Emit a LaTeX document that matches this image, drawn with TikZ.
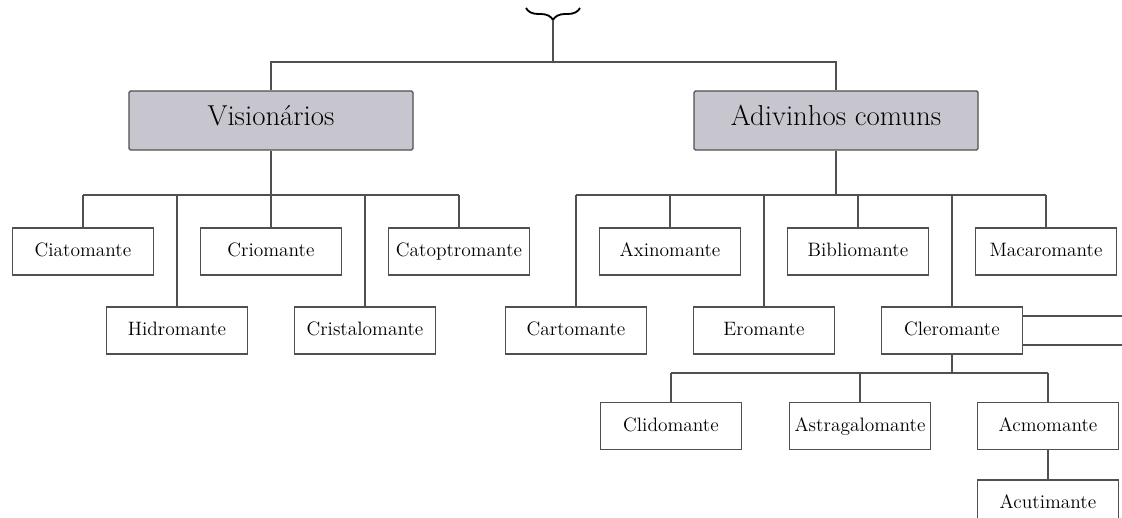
\documentclass[tikz,border=0pt]{standalone}
\usepackage{tikz}
\usetikzlibrary{positioning, decorations.pathreplacing}
\definecolor{headgrey}{RGB}{199,198,207}
\definecolor{linegrey}{RGB}{80,80,80}

\begin{document}
\begin{tikzpicture}[
  leaf/.style={draw=linegrey, line width=0.9pt, fill=white, inner sep=0pt,
    text height=1.9ex, text depth=0.25ex,
    minimum width=3.525cm, minimum height=1.175cm, font=\fontsize{13.8}{16}\selectfont},
  head/.style={leaf, fill=headgrey, rounded corners=1pt,
    minimum width=7.1cm, minimum height=1.475cm, font=\fontsize{20.5}{24}\selectfont},
  link/.style={draw=linegrey, line width=0.8pt}
]
\clip (0,0) rectangle (28.05,12.925);

% Top brace
\draw[line width=1.3pt, decorate, decoration={brace, mirror, amplitude=0.3cm}]
  (13.15,12.725) -- (14.5,12.725);
\coordinate (bracetip) at (13.825,12.425);
\coordinate (toprail) at (13.825,11.375);

% Heads
\node[head] (vis) at (6.775,9.9125) {Visionários};
\node[head] (adv) at (20.9,9.9125) {Adivinhos comuns};
\draw[link] (bracetip) -- (toprail);
\draw[link] (vis.north) |- (toprail) -| (adv.north);

% Visionaries
\node[leaf] (ciat) at (2.075,6.6375) {Ciatomante};
\node[leaf] (hidro) at (4.425,4.6625) {Hidromante};
\node[leaf] (crio) at (6.775,6.6375) {Criomante};
\node[leaf] (crist) at (9.125,4.6625) {Cristalomante};
\node[leaf] (catop) at (11.475,6.6375) {Catoptromante};
\coordinate (visrail) at (6.775,8.05);
\draw[link] (vis.south) -- (visrail);
\draw[link] (ciat.north |- visrail) -- (catop.north |- visrail);
\foreach \c in {ciat,hidro,crio,crist,catop}
  \draw[link] (\c.north) -- (\c.north |- visrail);

% Common diviners
\node[leaf] (cart) at (14.4,4.6625) {Cartomante};
\node[leaf] (axin) at (16.75,6.6375) {Axinomante};
\node[leaf] (ero) at (19.1,4.6625) {Eromante};
\node[leaf] (bibl) at (21.45,6.6375) {Bibliomante};
\node[leaf] (clero) at (23.8,4.6625) {Cleromante};
\node[leaf] (macar) at (26.15,6.6375) {Macaromante};
\coordinate (advrail) at (20.9,8.05);
\draw[link] (adv.south) -- (advrail);
\draw[link] (cart.north |- advrail) -- (macar.north |- advrail);
\foreach \c in {cart,axin,ero,bibl,clero,macar}
  \draw[link] (\c.north) -- (\c.north |- advrail);

% Cleromante lines out to the right
\coordinate (cleroout1) at (28.2,5.025);
\coordinate (cleroout2) at (28.2,4.3);
\draw[link] (clero.east |- cleroout1) -- (cleroout1);
\draw[link] (clero.east |- cleroout2) -- (cleroout2);

% Cleromante children
\node[leaf] (clid) at (16.775,2.275) {Clidomante};
\node[leaf] (astra) at (21.5,2.275) {Astragalomante};
\node[leaf] (acmo) at (26.2,2.275) {Acmomante};
\node[leaf] (acuti) at (26.2,0.3375) {Acutimante};
\coordinate (clerorail) at (23.8,3.6);
\draw[link] (clero.south) -- (clerorail);
\draw[link] (clid.north |- clerorail) -- (acmo.north |- clerorail);
\foreach \c in {clid,astra,acmo}
  \draw[link] (\c.north) -- (\c.north |- clerorail);
\draw[link] (acmo.south) -- (acuti.north);

\end{tikzpicture}
\end{document}
